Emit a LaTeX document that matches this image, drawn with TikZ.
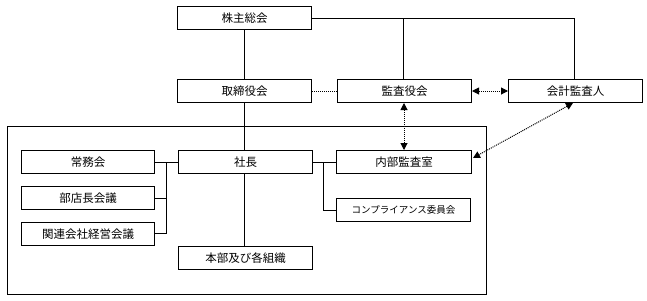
\documentclass[tikz,border=0pt]{standalone}
\usepackage{fontspec}
\setmainfont{Noto Sans CJK JP}
\usetikzlibrary{arrows.meta}
\begin{document}
\begin{tikzpicture}[x=1pt,y=-1pt,
  box/.style={draw,line width=1pt,minimum width=134pt,minimum height=23pt,inner sep=0pt,font=\fontsize{11.5}{13}\selectfont,anchor=north west},
  conn/.style={line width=1pt},
  dot/.style={line width=1pt,dash pattern=on 1pt off 1pt},
  dotarr/.style={line width=1pt,dash pattern=on 1pt off 1pt,{Triangle[length=7pt,width=7pt]}-{Triangle[length=7pt,width=7pt]}}]
\useasboundingbox (0,0) rectangle (647,300);
\draw[line width=1pt] (7,126) rectangle (486,294);
\node[box] (kabu) at (177,6) {株主総会};
\node[box] (tori) at (177,79) {取締役会};
\node[box] (kansa) at (337,79) {監査役会};
\node[box] (kaikei) at (508,79) {会計監査人};
\node[box,minimum width=133pt] (jomu) at (21,150) {常務会};
\node[box,minimum width=133pt] (buten) at (21,186) {部店長会議};
\node[box,minimum width=133pt] (kanren) at (21,222) {関連会社経営会議};
\node[box] (shacho) at (178,150) {社長};
\node[box] (honbu) at (178,246) {本部及び各組織};
\node[box,minimum width=135pt] (naibu) at (336,150) {内部監査室};
\node[box,font=\fontsize{9.5}{11}\selectfont] (comp) at (336,198) {コンプライアンス委員会};
\coordinate (ktop) at (574,18);
\draw[conn] (kabu.south -| 244,0) -- (tori.north -| 244,0);
\draw[conn] (kabu.east |- 0,18) -| (kaikei.north -| ktop);
\draw[conn] (403,18) -- (kansa.north -| 403,0);
\draw[dot] (tori.east) -- (kansa.west);
\draw[dotarr] (kansa.east) -- (kaikei.west);
\draw[conn] (tori.south -| 244,0) -- (shacho.north -| 244,0);
\draw[conn] (shacho.south -| 244,0) -- (honbu.north -| 244,0);
\draw[conn] (shacho.west) -- (jomu.east);
\draw[conn] (166,162) -- (166,233) -- (kanren.east |- 0,233);
\draw[conn] (buten.east) -- (166,198);
\draw[conn] (shacho.east) -- (naibu.west);
\draw[conn] (323,162) |- (comp.west);
\draw[dotarr] (kansa.south -| 404,0) -- (naibu.north -| 404,0);
\draw[dotarr] (kaikei.south -| 573,0) -- (473,158);
\end{tikzpicture}
\end{document}
